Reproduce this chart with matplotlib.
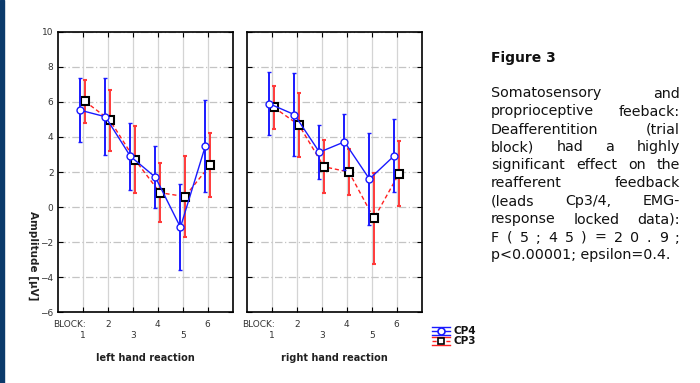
import matplotlib
matplotlib.use("Agg")
import matplotlib.pyplot as plt
import numpy as np
from matplotlib.lines import Line2D

blocks = [1, 2, 3, 4, 5, 6]
tick_labels = ["1", "2", "3", "4", "5", "6"]

# left hand reaction
left_cp4 = [5.52, 5.15, 2.89, 1.70, -1.15, 3.50]
left_cp4_err = [1.83, 2.20, 1.92, 1.77, 2.45, 2.63]
left_cp3 = [6.03, 4.95, 2.70, 0.82, 0.60, 2.38]
left_cp3_err = [1.22, 1.75, 1.90, 1.67, 2.33, 1.83]

# right hand reaction
right_cp4 = [5.89, 5.27, 3.13, 3.72, 1.60, 2.94]
right_cp4_err = [1.80, 2.37, 1.55, 1.60, 2.60, 2.08]
right_cp3 = [5.68, 4.68, 2.30, 2.00, -0.65, 1.90]
right_cp3_err = [1.24, 1.83, 1.50, 1.30, 2.60, 1.85]

W, H = 700, 383
fig = plt.figure(figsize=(W / 100, H / 100), dpi=100)
fig.patch.set_facecolor("white")

# dark stripe on the left
fig.patches.append(plt.Rectangle((0, 0), 3.5 / W, 1, transform=fig.transFigure,
                                 color="#0b3a6b", zorder=0))

def fx(px):
    return px / W

def fy(py):
    return 1 - py / H

panels = [
    (57.7, "left hand reaction", left_cp4, left_cp4_err, left_cp3, left_cp3_err),
    (246.7, "right hand reaction", right_cp4, right_cp4_err, right_cp3, right_cp3_err),
]

off = 0.09
for i, (x0, title, c4, e4, c3, e3) in enumerate(panels):
    ax = fig.add_axes([fx(x0), fy(312.3), 175 / W, 280.6 / H])
    ax.set_xlim(0, 7)
    ax.set_ylim(-6, 10)
    ax.set_yticks(np.arange(-6, 11, 2))
    ax.set_xticks(blocks)
    ax.set_xticklabels([])
    ax.tick_params(axis="both", direction="in", length=3.5, width=0.8,
                   top=True, right=True, pad=3)
    ax.tick_params(axis="y", labelsize=6.5, labelcolor="#333333")
    if i == 1:
        ax.set_yticklabels([])
    for s in ax.spines.values():
        s.set_linewidth(1.2)
    ax.grid(axis="y", color="#c4c4c4", linestyle=(0, (6, 2, 1, 2)), linewidth=0.9)
    ax.grid(axis="x", color="#d4d4d4", linestyle="-", linewidth=0.9)
    ax.set_axisbelow(True)
    xs = np.array(blocks, dtype=float)
    ax.errorbar(xs + off, c3, yerr=e3, color="#ff2020", ecolor="#ff3a3a",
                elinewidth=1.4, capsize=1.5, capthick=1.0, linestyle=(0, (3, 2)),
                linewidth=1.0, marker="s", markersize=5.5, markerfacecolor="white",
                markeredgecolor="black", markeredgewidth=1.5, zorder=3)
    ax.errorbar(xs - off, c4, yerr=e4, color="#1a1aff", ecolor="#1a1aff",
                elinewidth=1.4, capsize=1.5, capthick=1.0, linestyle="-",
                linewidth=1.0, marker="o", markersize=5, markerfacecolor="white",
                markeredgecolor="#1a1aff", markeredgewidth=1.0, zorder=4)
    xtr = ax.get_xaxis_transform()
    ax.text(0.46, -0.042, "BLOCK:", transform=xtr, ha="center", va="center",
            fontsize=6.5, color="#333333")
    for b, lab in zip(blocks, tick_labels):
        yrow = -0.042 if b % 2 == 0 else -0.081
        ax.text(b, yrow, lab, transform=xtr, ha="center", va="center",
                fontsize=6.5, color="#333333")
    fig.text(fx(x0 + 87.5), fy(357.7), title, ha="center", va="center",
             fontsize=7, fontweight="bold", color="#222222")

fig.text(fx(33), fy(256), "Amplitude [µV]", rotation=270, ha="center", va="center",
         fontsize=7.5, fontweight="bold", color="#222222")

# legend
for yy, col, mk, mec, ls, lab in [(331, "#1a1aff", "o", "#1a1aff", "-", "CP4"),
                                  (341, "#ff2020", "s", "black", (0, (3, 2)), "CP3")]:
    fig.add_artist(Line2D([fx(432), fx(450)], [fy(yy - 4), fy(yy - 4)],
                          color=col, lw=1.0, transform=fig.transFigure))
    fig.add_artist(Line2D([fx(432), fx(450)], [fy(yy), fy(yy)], color=col, lw=1.0,
                          linestyle=ls, transform=fig.transFigure))
    fig.add_artist(Line2D([fx(432), fx(450)], [fy(yy + 4), fy(yy + 4)],
                          color=col, lw=1.0, transform=fig.transFigure))
    fig.add_artist(Line2D([fx(441)], [fy(yy)], marker=mk, markersize=5,
                          markerfacecolor="white", markeredgecolor=mec,
                          markeredgewidth=1.2, linestyle="none",
                          transform=fig.transFigure))
    fig.text(fx(453), fy(yy), lab, ha="left", va="center", fontsize=7.5,
             fontweight="bold", color="#111111")

# right-hand text
fig.text(fx(491), fy(58), "Figure 3", ha="left", va="center", fontsize=10,
         fontweight="bold", color="#111111")

lines = [
    "Somatosensory and",
    "proprioceptive feeback:",
    "Deafferentition (trial",
    "block) had a highly",
    "significant effect on the",
    "reafferent feedback",
    "(leads Cp3/4, EMG-",
    "response locked data):",
    "F ( 5 ; 4 5 ) = 2 0 . 9 ;",
    "p<0.00001; epsilon=0.4.",
]
left_px, right_px = 491, 680
y0, dy = 97.5, 18.0
fs = 10.3
renderer = fig.canvas.get_renderer()
for k, line in enumerate(lines):
    words = line.split(" ")
    yy = fy(y0 + k * dy)
    if k == len(lines) - 1:
        fig.text(fx(left_px), yy, line, ha="left", va="baseline", fontsize=fs,
                 color="#111111")
        continue
    texts = [fig.text(0, yy, w, ha="left", va="baseline", fontsize=fs,
                      color="#111111") for w in words]
    widths = [t.get_window_extent(renderer).width for t in texts]
    gap = (right_px - left_px - sum(widths)) / max(len(words) - 1, 1)
    x = left_px
    for t, wdt in zip(texts, widths):
        t.set_x(fx(x))
        x += wdt + gap

fig.savefig("out.png", dpi=100)
